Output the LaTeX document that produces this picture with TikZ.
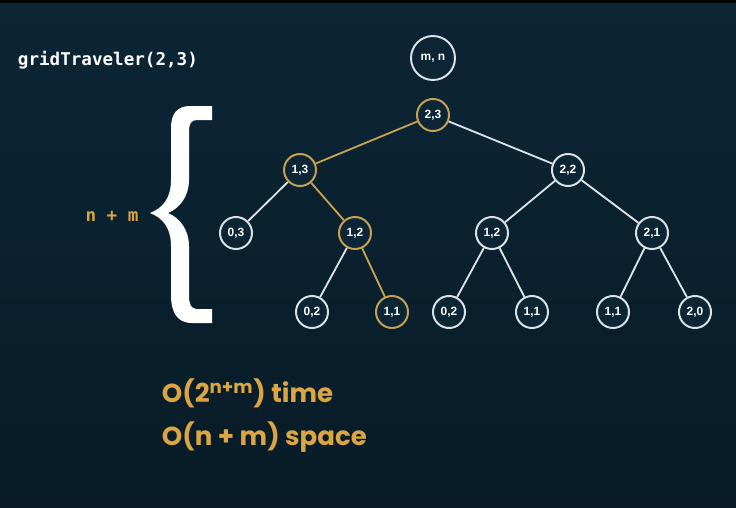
\documentclass[tikz,border=0pt]{standalone}
\usepackage{fontspec}
\newfontfamily\codefont{DejaVu Sans Mono}
\newfontfamily\popfont{Poppins}
\newfontfamily\labfont{Liberation Sans}
\definecolor{bgtop}{HTML}{0C2636}
\definecolor{bgbot}{HTML}{081B27}
\definecolor{gold}{HTML}{DBA543}
\definecolor{goldline}{HTML}{C9A251}
\definecolor{pale}{HTML}{DCE3E8}

\begin{document}
\begin{tikzpicture}[x=0.025cm,y=-0.025cm,
  call/.style={circle,draw=pale,line width=1.4pt,fill=bgtop,minimum size=0.8cm,inner sep=0pt,text=white,font=\labfont\bfseries\fontsize{8.5}{10}\selectfont},
  hot/.style={call,draw=goldline},
  w/.style={draw=pale,line width=1.3pt},
  g/.style={draw=goldline,line width=1.3pt},
  cost/.style={anchor=west,text=gold,font=\popfont\bfseries\fontsize{18.5}{22}\selectfont}]
\shade[top color=bgtop,bottom color=bgbot] (0,0) rectangle (736,507);
\fill[black] (0,0) rectangle (736,3);
\node[anchor=west,text=white,font=\codefont\bfseries\fontsize{12.5}{14}\selectfont] (title) at (13,60) {gridTraveler(2,3)};
\node[call,minimum size=1.1cm] (mn) at (433,58) {m, n};
% tree of calls
\node[hot] (n23) at (433,115) {2,3};
\node[hot] (n13) at (300,170) {1,3};
\node[call] (n22) at (568,170) {2,2};
\node[call] (n03) at (236,233) {0,3};
\node[hot] (n12a) at (355,233) {1,2};
\node[call] (n12b) at (492,233) {1,2};
\node[call] (n21) at (652,233) {2,1};
\node[call] (n02a) at (312,312) {0,2};
\node[hot] (n11a) at (392,312) {1,1};
\node[call] (n02b) at (449,312) {0,2};
\node[call] (n11b) at (532,312) {1,1};
\node[call] (n11c) at (613,312) {1,1};
\node[call] (n20) at (695,312) {2,0};
\draw[g] (n23)--(n13); \draw[w] (n23)--(n22);
\draw[w] (n13)--(n03); \draw[g] (n13)--(n12a);
\draw[w] (n12a)--(n02a); \draw[g] (n12a)--(n11a);
\draw[w] (n22)--(n12b); \draw[w] (n22)--(n21);
\draw[w] (n12b)--(n02b); \draw[w] (n12b)--(n11b);
\draw[w] (n21)--(n11c); \draw[w] (n21)--(n20);
% depth brace
\fill[white] (212,106) -- (190,106) .. controls (177,106) and (171,114) .. (171,128) -- (171,180)
  .. controls (171,198) and (163,208) .. (150,213) .. controls (163,218) and (171,228) .. (171,246)
  -- (171,295) .. controls (171,312) and (177,323) .. (192,323) -- (212,323) -- (212,309) -- (197,309)
  .. controls (191,309) and (189,304) .. (189,296) -- (189,246) .. controls (189,230) and (180,218) .. (168,213)
  .. controls (180,208) and (189,196) .. (189,180) -- (189,131) .. controls (189,124) and (191,120) .. (197,120)
  -- (212,120) -- cycle;
\node[text=gold,font=\codefont\bfseries\fontsize{12.5}{14}\selectfont] (depth) at (112,216) {n + m};
\node[cost] (time) at (157,393) {O(2\textsuperscript{n+m}) time};
\node[cost] (space) at (157,437) {O(n + m) space};
\end{tikzpicture}
\end{document}
